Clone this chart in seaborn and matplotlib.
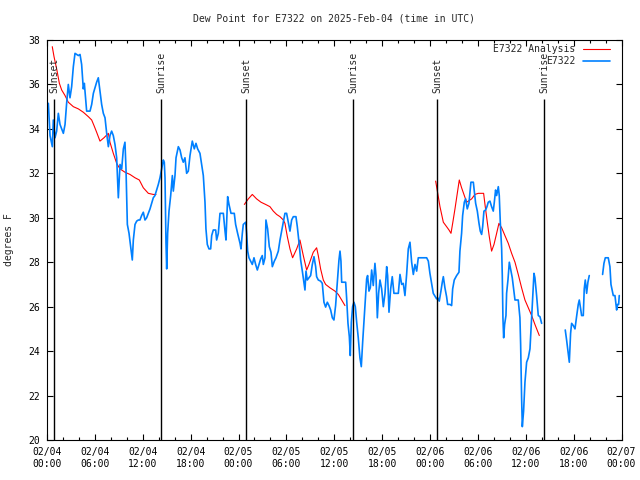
import numpy as np
import pandas as pd
import matplotlib
matplotlib.use('Agg')
import matplotlib.pyplot as plt
import matplotlib.dates as mdates
import seaborn as sns

# Observed dew point (E7322), hours after 2025-02-04 00:00 UTC
obs_hours = [0.17, 0.38, 0.67, 0.79, 1.00, 1.21, 1.42, 1.63, 2.05, 2.26, 2.46, 2.67, 2.88, 3.09, 3.30, 3.51,
             3.93, 4.14, 4.34, 4.55, 4.68, 4.76, 4.97, 5.39, 5.60, 5.81, 6.22, 6.43, 6.64, 6.85, 7.06, 7.27,
             7.48, 7.69, 7.89, 8.10, 8.31, 8.52, 8.73, 8.94, 9.15, 9.36, 9.57, 9.77, 9.90, 10.07, 10.28, 10.48,
             10.69, 10.82, 11.03, 11.24, 11.45, 11.65, 11.86, 12.07, 12.28, 12.49, 12.70, 12.91, 13.12, 13.32,
             13.53, 13.74, 13.95, 14.16, 14.37, 14.58, 14.70, 14.79, 14.91, 15.00, 15.12, 15.29, 15.50, 15.71,
             15.83, 16.04, 16.17, 16.46, 16.67, 16.88, 17.08, 17.29, 17.50, 17.71, 17.92, 18.21, 18.46, 18.67,
             18.88, 19.17, 19.38, 19.59, 19.80, 19.92, 20.09, 20.30, 20.51, 20.64, 20.84, 21.14, 21.26, 21.47,
             21.68, 22.10, 22.31, 22.43, 22.64, 22.81, 23.06, 23.47, 23.64, 23.89, 24.19, 24.31, 24.48, 24.60,
             24.90, 25.02, 25.15, 25.31, 25.52, 25.73, 25.94, 26.15, 26.36, 26.57, 26.78, 26.98, 27.11, 27.32,
             27.44, 27.65, 27.86, 28.07, 28.24, 28.49, 28.70, 28.99, 29.20, 29.41, 29.62, 29.82, 30.03, 30.24,
             30.45, 30.66, 30.87, 31.20, 31.37, 31.58, 31.79, 32.00, 32.21, 32.33, 32.46, 32.62, 32.83, 33.04,
             33.25, 33.46, 33.67, 33.79, 34.00, 34.29, 34.50, 34.71, 34.92, 35.13, 35.34, 35.55, 35.76, 35.96,
             36.17, 36.38, 36.59, 36.72, 36.84, 36.93, 37.22, 37.43, 37.55, 37.72, 37.89, 38.01, 38.14, 38.30,
             38.47, 38.64, 38.81, 39.01, 39.22, 39.39, 39.56, 39.72, 39.85, 40.06, 40.18, 40.35, 40.52, 40.69,
             40.89, 41.10, 41.23, 41.40, 41.56, 41.73, 41.94, 42.15, 42.36, 42.57, 42.69, 42.86, 43.07, 43.27,
             43.48, 43.69, 44.03, 44.24, 44.45, 44.65, 44.86, 45.07, 45.28, 45.49, 45.70, 45.91, 46.12, 46.33,
             46.53, 47.58, 47.79, 47.99, 48.20, 48.41, 48.83, 48.96, 49.16, 49.37, 49.54, 49.67, 49.87, 50.08,
             50.21, 50.50, 50.71, 50.84, 51.04, 51.34, 51.63, 51.75, 51.96, 52.09, 52.30, 52.46, 52.67, 52.88,
             53.13, 53.43, 53.55, 53.72, 53.93, 54.14, 54.30, 54.47, 54.60, 54.76, 54.97, 55.14, 55.30, 55.51,
             55.72, 55.93, 56.06, 56.22, 56.35, 56.56, 56.68, 56.81, 56.98, 57.06, 57.14, 57.23, 57.35, 57.52,
             57.60, 57.77, 57.94, 58.10, 58.31, 58.48, 58.65, 59.06, 59.27, 59.36, 59.48, 59.57, 59.73, 59.90,
             60.11, 60.32, 60.53, 60.74, 60.90, 61.03, 61.15, 61.36, 61.57, 61.78, 61.99,
             64.95, 65.12, 65.29, 65.46, 65.62, 65.75, 65.96, 66.17, 66.37, 66.58, 66.71, 66.88, 67.00, 67.21,
             67.33, 67.46, 67.63, 67.79, 67.96, 69.63, 69.80, 69.97, 70.34, 70.55, 70.68, 70.97, 71.18, 71.39,
             71.51, 71.64, 71.72]
obs_dewpt = [35.15, 33.7, 33.2, 34.4, 33.6, 33.9, 34.7, 34.2, 33.8, 34.2, 35.15, 36.0, 35.4, 35.9, 36.8, 37.4,
             37.3, 37.35, 36.9, 35.8, 36.05, 35.7, 34.8, 34.8, 35.1, 35.6, 36.1, 36.3, 35.7, 35.1, 34.7, 34.5,
             33.8, 33.2, 33.7, 33.9, 33.7, 33.3, 32.7, 30.9, 32.4, 32.2, 33.1, 33.4, 32.2, 29.7, 29.3, 28.7,
             28.1, 29.0, 29.7, 29.85, 29.9, 29.9, 30.1, 30.25, 29.9, 30.0, 30.2, 30.4, 30.65, 30.9,
             31.0, 31.25, 31.5, 31.8, 32.2, 32.6, 32.5, 31.8, 28.9, 27.7, 29.3, 30.3, 31.0, 31.9,
             31.2, 31.9, 32.7, 33.2, 33.05, 32.7, 32.5, 32.7, 32.0, 32.1, 32.8, 33.45, 33.1, 33.35,
             33.1, 32.9, 32.4, 31.9, 30.7, 29.5, 28.8, 28.6, 28.6, 29.2, 29.45, 29.45, 29.0, 29.3,
             30.2, 30.2, 29.4, 29.0, 30.95, 30.6, 30.2, 30.2, 29.7, 29.3, 28.85, 28.6, 29.3, 29.7,
             29.8, 29.3, 28.5, 28.2, 28.05, 27.9, 28.2, 27.9, 27.65, 27.9, 28.15, 28.3, 27.9, 28.2,
             29.9, 29.5, 28.7, 28.45, 27.8, 28.05, 28.2, 28.5, 29.0, 29.4, 29.8, 30.2, 30.2, 29.8,
             29.4, 29.9, 30.05, 30.05, 29.6, 28.9, 28.1, 27.6, 27.05, 26.75, 27.6, 27.2, 27.3, 27.4,
             27.9, 28.25, 27.8, 27.35, 27.2, 27.15, 27.05, 26.2, 25.98, 26.2, 26.05, 25.85, 25.5, 25.4,
             26.05, 27.1, 28.1, 28.5, 28.05, 27.1, 27.1, 27.1, 26.4, 25.25, 24.65, 23.8, 25.3, 26.0,
             26.2, 26.0, 25.3, 24.6, 23.7, 23.3, 24.4, 25.3, 26.0, 27.25, 27.4, 26.7, 26.85, 27.65,
             26.95, 27.95, 27.4, 25.5, 26.6, 27.2, 26.8, 26.0, 26.6, 27.8, 27.4, 25.75, 26.8, 27.35,
             26.6, 26.6, 26.6, 27.45, 27.0, 27.05, 26.5, 27.45, 28.6, 28.9, 28.0, 27.45, 27.9, 27.6,
             28.2, 28.2, 28.05, 27.5, 27.05, 26.6, 26.35, 26.4, 26.25, 26.7, 27.1, 27.35, 26.85, 26.45,
             26.1, 26.1, 26.05, 26.8, 27.2, 27.4, 27.55, 28.5, 29.3, 30.1, 30.7, 30.85, 30.4, 30.65,
             31.6, 31.6, 31.2, 30.65, 30.3, 29.75, 29.4, 29.25, 29.6, 30.3, 30.35, 30.5, 30.7, 30.75,
             30.5, 30.3, 30.7, 31.25, 31.0, 31.4, 31.0, 29.8, 28.6, 27.4, 25.5, 24.6, 25.2, 25.6,
             26.6, 27.2, 28.0, 27.7, 27.3, 26.8, 26.3, 26.3, 25.5, 24.3, 21.9, 20.6, 21.3, 22.6,
             23.5, 23.7, 24.1, 25.5, 26.6, 27.5, 27.3, 26.5, 25.6, 25.55, 25.25,
             24.95, 24.5, 24.0, 23.5, 24.8, 25.25, 25.15, 25.0, 25.55, 26.1, 26.3, 25.9, 25.6, 25.6,
             26.8, 27.2, 26.6, 27.1, 27.4, 27.45, 27.95, 28.2, 28.2, 27.8, 27.0, 26.5, 26.5, 25.85,
             26.1, 26.1, 26.5]

# Analysis dew point (E7322 Analysis)
ana_hours = [0.66, 0.88, 1.21, 1.55, 1.84, 2.26, 2.67, 3.30, 3.93, 4.55, 5.18, 5.60, 5.89, 6.22, 6.64, 7.14,
             7.69, 7.89, 8.31, 8.73, 9.15, 9.77, 10.40, 11.03, 11.57, 12.07, 12.70, 13.32, 13.66,
             24.73, 25.23, 25.73, 26.27, 26.82, 27.40, 27.94, 28.36, 28.78, 29.20, 29.62, 29.82, 30.12, 30.45,
             30.78, 31.29, 31.70, 32.12, 32.54, 32.83, 33.37, 33.79, 34.00, 34.29, 34.63, 34.92, 35.46, 36.09,
             36.51, 36.93, 37.34,
             48.71, 49.04, 49.25, 49.46, 49.67, 50.08, 50.38, 50.63, 50.84, 51.13, 51.42, 51.67, 51.96, 52.30,
             52.59, 52.80, 53.22, 53.63, 54.05, 54.47, 54.72, 54.89, 55.18, 55.43, 55.72, 56.02, 56.35, 56.64,
             56.98, 57.39, 57.81, 58.23, 58.65, 59.06, 59.48, 59.90, 60.32, 60.74, 61.15, 61.70]
ana_dewpt = [37.7, 37.25, 36.7, 36.05, 35.75, 35.5, 35.2, 35.0, 34.9, 34.75, 34.55, 34.4, 34.15, 33.85, 33.45, 33.6,
             33.8, 33.4, 32.9, 32.45, 32.2, 32.05, 31.95, 31.8, 31.7, 31.35, 31.1, 31.05, 31.05,
             30.6, 30.85, 31.05, 30.85, 30.7, 30.6, 30.5, 30.3, 30.15, 30.05, 29.9, 29.75, 29.15, 28.6,
             28.2, 28.6, 29.0, 28.3, 27.65, 27.9, 28.45, 28.65, 28.3, 27.7, 27.2, 27.0, 26.85, 26.7,
             26.55, 26.3, 26.05,
             31.65, 30.95, 30.5, 30.15, 29.8, 29.6, 29.45, 29.3, 29.75, 30.4, 31.1, 31.7, 31.35, 31.0,
             30.7, 30.75, 30.85, 31.05, 31.1, 31.1, 31.1, 30.6, 29.8, 29.15, 28.5, 28.8, 29.3, 29.75,
             29.55, 29.2, 28.85, 28.4, 28.0, 27.45, 26.85, 26.3, 25.95, 25.6, 25.2, 24.7]

sun_hours = [0.9, 14.32, 24.95, 38.35, 48.9, 62.32]
sun_labels = ['Sunset', 'Sunrise', 'Sunset', 'Sunrise', 'Sunset', 'Sunrise']

start = pd.Timestamp('2025-02-04 00:00')


def to_frame(hours, values):
    df = pd.DataFrame({'hours': hours, 'dewpt': values})
    df['time'] = start + pd.to_timedelta(df['hours'], unit='h')
    # break the line where data is missing
    df['seg'] = (df['hours'].diff() > 1.5).cumsum()
    return df


obs = to_frame(obs_hours, obs_dewpt)
ana = to_frame(ana_hours, ana_dewpt)

sns.set_style('ticks')
plt.rcParams['font.family'] = ['DejaVu Sans Mono']
plt.rcParams['font.size'] = 7

fig = plt.figure(figsize=(6.4, 4.8), dpi=100)
ax = fig.add_axes([47 / 640, 40 / 480, 574.5 / 640, 400 / 480])

for i, (seg, part) in enumerate(ana.groupby('seg')):
    sns.lineplot(data=part, x='time', y='dewpt', color='#ff0000', lw=0.8, ax=ax,
                 label='E7322 Analysis' if i == 0 else '_nolegend_')
for i, (seg, part) in enumerate(obs.groupby('seg')):
    sns.lineplot(data=part, x='time', y='dewpt', color='#0080ff', lw=1.2, ax=ax,
                 label='E7322' if i == 0 else '_nolegend_')

sun_times = start + pd.to_timedelta(sun_hours, unit='h')
ax.vlines(sun_times, 20, 35.35, color='black', lw=1.0)
for t, lab in zip(sun_times, sun_labels):
    ax.text(t, 35.6, lab, rotation=90, ha='center', va='bottom', fontsize=7)

ax.set_xlim(start, start + pd.Timedelta(hours=72))
ax.set_ylim(20, 38)
ax.set_yticks(np.arange(20, 39, 2))
ax.xaxis.set_major_locator(mdates.HourLocator(byhour=range(0, 24, 6)))
ax.xaxis.set_minor_locator(mdates.HourLocator(byhour=range(0, 24, 2)))
ax.xaxis.set_major_formatter(mdates.DateFormatter('%m/%d\n%H:%M'))

ax.tick_params(which='both', direction='in', top=True, right=True, colors='black', labelsize=7)
ax.tick_params(which='major', length=4.5, width=0.8, pad=5)
ax.tick_params(which='minor', length=2.5, width=0.8)
for s in ax.spines.values():
    s.set_color('black')
    s.set_linewidth(0.8)

ax.set_xlabel('')
ax.set_ylabel('degrees F', fontsize=7, labelpad=10)
ax.set_title('Dew Point for E7322 on 2025-Feb-04 (time in UTC)', fontsize=7, pad=13)

ax.legend(loc='upper right', bbox_to_anchor=(0.98, 0.99), frameon=False, markerfirst=False,
          fontsize=7, handlelength=2.8, handletextpad=0.8, labelspacing=0.25,
          borderpad=0, borderaxespad=0)

fig.savefig('out.png', dpi=100)
